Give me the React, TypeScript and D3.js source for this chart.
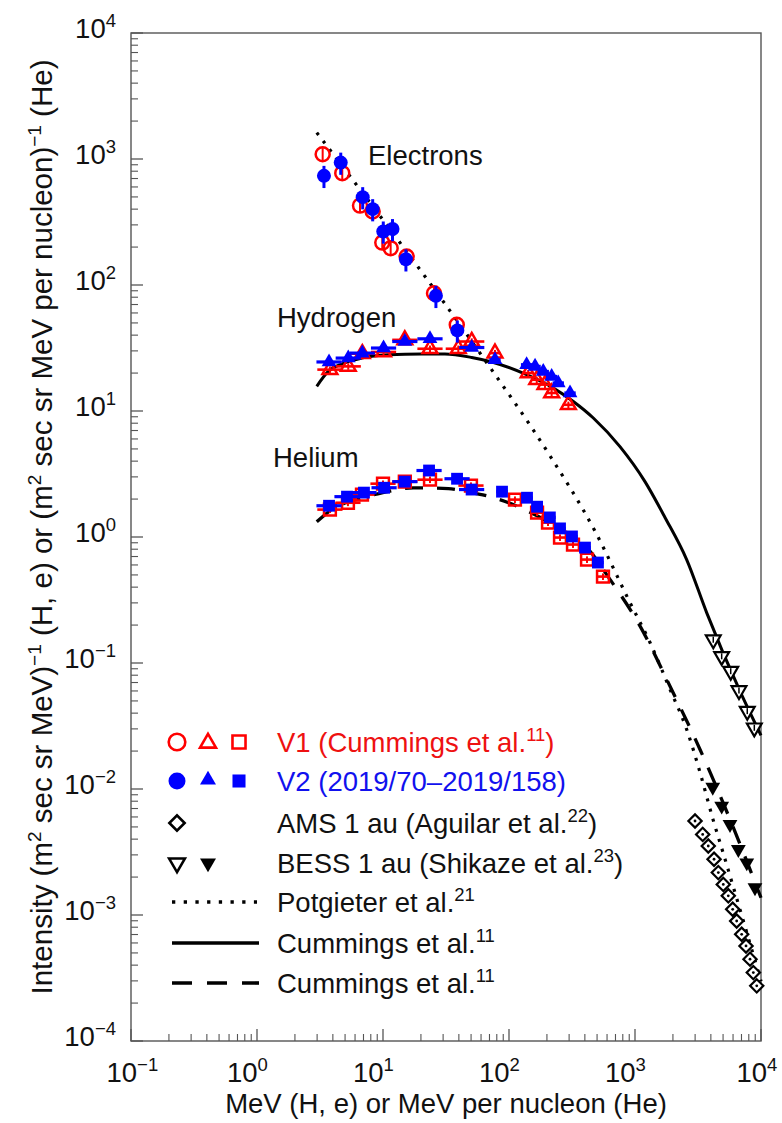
import React from "react";
import * as d3 from "d3";

// ---------- axes ----------
const xTickValues = [0.1, 1, 10, 100, 1000, 10000];
const xTickExps = ["−1", "0", "1", "2", "3", "4"];
const yTickValues = [1e-4, 1e-3, 1e-2, 1e-1, 1, 10, 100, 1000, 10000];
const yTickExps = ["−4", "−3", "−2", "−1", "0", "1", "2", "3", "4"];

// ---------- electrons ----------
const elecV1E = [3.32, 4.75, 6.57, 8.28, 9.87, 11.5, 15.4, 25.4, 38.5];
const elecV1I = [1091, 772, 427, 383, 217, 196, 168, 86, 48.3];
const elecV2E = [3.4, 4.62, 6.9, 8.28, 10.05, 11.9, 15.2, 26.3, 38.9];
const elecV2I = [735, 936, 498, 400, 266, 278, 160, 82, 43.6];

// ---------- hydrogen ----------
const hydV1E = [3.79, 5.3, 6.85, 10.1, 14.9, 23.6, 39.6, 50.6, 77.4, 142, 166, 193, 218, 296];
const hydV1I = [21.3, 22.6, 28.5, 29.4, 36.7, 31.2, 31.2, 35.6, 28.8, 20.0, 17.7, 16.2, 13.9, 11.2];
const hydV2E = [3.73, 5.3, 6.85, 10.1, 14.9, 23.6, 50.6, 77.4, 138, 161, 187, 218, 246, 305];
const hydV2I = [24.5, 26.3, 28.8, 31.6, 35.6, 37.4, 31.9, 25.5, 23.3, 22.6, 20.6, 18.8, 16.7, 13.9];

// ---------- helium ----------
const heV1E = [3.79, 5.27, 6.81, 10, 14.9, 23.6, 49.9, 111.5, 167, 204, 254, 322, 416, 557];
const heV1I = [1.65, 1.87, 2.17, 2.65, 2.75, 2.85, 2.56, 1.98, 1.56, 1.3, 0.99, 0.871, 0.662, 0.485];
const heV2E = [3.73, 5.18, 7.06, 10.2, 14.9, 23.2, 38.7, 50.5, 88.0, 139, 167, 211, 254, 316, 401, 508];
const heV2I = [1.77, 2.09, 2.25, 2.46, 2.75, 3.37, 2.9, 2.38, 2.29, 2.05, 1.74, 1.43, 1.17, 1.01, 0.824, 0.627];

// ---------- 1 au data ----------
const amsE = [2995, 3445, 3815, 4240, 4585, 5020, 5500, 5960, 6410, 7025, 7605, 8180, 8690, 9250];
const amsI = [0.00557, 0.00436, 0.00353, 0.00277, 0.00217, 0.00175, 0.00142, 0.00111, 0.000896, 0.000703, 0.000568, 0.000446, 0.000349, 0.000274];
const bessHE = [4180, 4875, 5750, 6685, 7780, 8850];
const bessHI = [0.153, 0.113, 0.0861, 0.0605, 0.0415, 0.0306];
const bessHeE = [4140, 4875, 5675, 6610, 7710, 8960];
const bessHeI = [0.01035, 0.00732, 0.00524, 0.00332, 0.0026, 0.00165];

// ---------- models ----------
const potE = [2.98, 61.4, 204, 482, 912, 1315, 1897, 2572, 3281, 4159, 4993, 10000];
const potI = [1620, 27.1, 4.67, 1.11, 0.302, 0.1455, 0.0617, 0.0297, 0.01355, 0.00574, 0.00314, 0.000298];
const solE = [2.98, 3.68, 4.7, 6.78, 11.0, 20.3, 31.0, 50.6, 73.0, 138, 225, 324, 467, 760, 1200, 1730, 2570, 3710, 6810, 10000];
const solI = [15.7, 20.6, 23.6, 26.3, 27.9, 28.3, 28.3, 26.6, 24.5, 19.4, 15.2, 11.9, 8.8, 5.21, 2.75, 1.43, 0.662, 0.25, 0.0597, 0.0266];
const dashE = [2.98, 3.92, 4.99, 6.98, 9.78, 17.4, 23.6, 33.0, 44.8, 82.2, 147, 270, 440, 596, 1097, 2004, 3281, 5675, 10000];
const dashI = [1.32, 1.65, 1.86, 2.06, 2.24, 2.45, 2.45, 2.42, 2.3, 2.0, 1.57, 1.11, 0.771, 0.503, 0.196, 0.0583, 0.0206, 0.00574, 0.00137];

const RED = "#ff0000";
const BLUE = "#0000ff";
const INK = "#111111";
const FONT = "'Liberation Sans', Arial, Helvetica, sans-serif";

const X0 = 131, X1 = 761, Y0 = 33, Y1 = 1041;

const pairs = (a: number[], b: number[]) => a.map((v, i) => [v, b[i]] as [number, number]);

export default function App() {
  const x = d3.scaleLog().domain([0.1, 1e4]).range([X0, X1]);
  const y = d3.scaleLog().domain([1e-4, 1e4]).range([Y1, Y0]);
  const line = d3
    .line<[number, number]>()
    .x((d) => x(d[0]))
    .y((d) => y(d[1]))
    .curve(d3.curveMonotoneX);

  const tri = d3.symbol().type(d3.symbolTriangle).size(95)() as string;
  const triL = d3.symbol().type(d3.symbolTriangle).size(110)() as string;
  const sq = d3.symbol().type(d3.symbolSquare).size(140)() as string;
  const sqL = d3.symbol().type(d3.symbolSquare).size(170)() as string;
  const dia = d3.symbol().type(d3.symbolSquare).size(88)() as string;

  // minor ticks
  const minorX: number[] = [];
  for (let p = -1; p < 4; p++) for (let k = 2; k <= 9; k++) minorX.push(k * Math.pow(10, p));
  const minorY: number[] = [];
  for (let p = -4; p < 4; p++) for (let k = 2; k <= 9; k++) minorY.push(k * Math.pow(10, p));

  const hBar = (E: number) => (E < 60 ? 0.1 : 0.045);

  const errH = (data: [number, number][], color: string, w: number, key: string) =>
    data.map(([e, v], i) => (
      <line
        key={key + i}
        x1={x(e / Math.pow(10, hBar(e)))}
        x2={x(e * Math.pow(10, hBar(e)))}
        y1={y(v)}
        y2={y(v)}
        stroke={color}
        strokeWidth={w}
      />
    ));
  const errV = (data: [number, number][], frac: number, color: string, w: number, key: string) =>
    data.map(([e, v], i) => (
      <line
        key={key + i}
        x1={x(e)}
        x2={x(e)}
        y1={y(v * (1 - frac))}
        y2={y(v * (1 + frac))}
        stroke={color}
        strokeWidth={w}
      />
    ));

  const eV1 = pairs(elecV1E, elecV1I);
  const eV2 = pairs(elecV2E, elecV2I);
  const hV1 = pairs(hydV1E, hydV1I);
  const hV2 = pairs(hydV2E, hydV2I);
  const heV1 = pairs(heV1E, heV1I);
  const heV2 = pairs(heV2E, heV2I);
  const ams = pairs(amsE, amsI);
  const bH = pairs(bessHE, bessHI);
  const bHe = pairs(bessHeE, bessHeI);

  const legendY = [742, 781, 823, 863, 902, 943, 983];
  const lx = [177, 208, 239];
  const tx = 277;
  const fs = 27.5;
  const sup = (s: string) => (
    <>
      <tspan dy={-11} fontSize={18.5}>{s}</tspan>
      <tspan dy={11}>)</tspan>
    </>
  );

  return (
    <svg
      width={782}
      height={1123}
      style={{ position: "absolute", left: 0, top: 0, background: "#fff" }}
      fontFamily={FONT}
    >
      <rect width={782} height={1123} fill="#fff" />

      {/* frame */}
      <rect x={X0} y={Y0} width={X1 - X0} height={Y1 - Y0} fill="none" stroke="#555" strokeWidth={1.4} />

      {/* ticks */}
      {xTickValues.map((v, i) => (
        <line key={"xt" + i} x1={x(v)} x2={x(v)} y1={Y1} y2={Y1 - 12} stroke="#555" strokeWidth={1.3} />
      ))}
      {minorX.map((v, i) => (
        <line key={"xm" + i} x1={x(v)} x2={x(v)} y1={Y1} y2={Y1 - 7} stroke="#555" strokeWidth={1.1} />
      ))}
      {yTickValues.map((v, i) => (
        <line key={"yt" + i} x1={X0} x2={X0 + 12} y1={y(v)} y2={y(v)} stroke="#555" strokeWidth={1.3} />
      ))}
      {minorY.map((v, i) => (
        <line key={"ym" + i} x1={X0} x2={X0 + 7} y1={y(v)} y2={y(v)} stroke="#555" strokeWidth={1.1} />
      ))}

      {/* tick labels */}
      {xTickValues.map((v, i) => {
        const off = i === 0 || i === xTickValues.length - 1 ? -24.5 : -30;
        return (
          <text key={"xl" + i} x={x(v) + off} y={1082} fontSize={fs} fill={INK}>
            10
            <tspan dy={-11} fontSize={18.5}>{xTickExps[i]}</tspan>
          </text>
        );
      })}
      {yTickValues.map((v, i) => (
        <text key={"yl" + i} x={116} y={y(v) + 5} fontSize={fs} fill={INK} textAnchor="end">
          10
          <tspan dy={-11} fontSize={18.5}>{yTickExps[i]}</tspan>
        </text>
      ))}

      {/* axis titles */}
      <text x={446} y={1113} fontSize={fs} fill={INK} textAnchor="middle">
        MeV (H, e) or MeV per nucleon (He)
      </text>
      <text transform="translate(52,527) rotate(-90)" fontSize={29.5} fill={INK} textAnchor="middle">
        Intensity (m<tspan dy={-11} fontSize={19}>2</tspan>
        <tspan dy={11}> sec sr MeV)</tspan>
        <tspan dy={-11} fontSize={19}>−1</tspan>
        <tspan dy={11}> (H, e) or (m</tspan>
        <tspan dy={-11} fontSize={19}>2</tspan>
        <tspan dy={11}> sec sr MeV per nucleon)</tspan>
        <tspan dy={-11} fontSize={19}>−1</tspan>
        <tspan dy={11}> (He)</tspan>
      </text>

      {/* model curves */}
      <path d={line(pairs(potE, potI)) || ""} fill="none" stroke="#000" strokeWidth={3.2} strokeDasharray="3 7.5" />
      <path d={line(pairs(solE, solI)) || ""} fill="none" stroke="#000" strokeWidth={3} />
      <path d={line(pairs(dashE, dashI)) || ""} fill="none" stroke="#000" strokeWidth={3.3} strokeDasharray="18 14" />

      {/* V1 (red, open) */}
      {errH(hV1, RED, 2.6, "hv1h")}
      {errV(hV1, 0.06, RED, 2, "hv1v")}
      {errH(heV1, RED, 2.6, "hev1h")}
      {errV(heV1, 0.06, RED, 2, "hev1v")}
      {errV(eV1, 0.12, RED, 2, "ev1v")}
      {eV1.map(([e, v], i) => (
        <circle key={"ec1" + i} cx={x(e)} cy={y(v)} r={7} fill="none" stroke={RED} strokeWidth={2.5} />
      ))}
      {hV1.map(([e, v], i) => (
        <path key={"ht1" + i} d={tri} transform={`translate(${x(e)},${y(v)})`} fill="none" stroke={RED} strokeWidth={2.5} />
      ))}
      {heV1.map(([e, v], i) => (
        <path key={"hs1" + i} d={sq} transform={`translate(${x(e)},${y(v)})`} fill="none" stroke={RED} strokeWidth={2.5} />
      ))}

      {/* V2 (blue, filled) */}
      {errH(hV2, BLUE, 3.2, "hv2h")}
      {errH(heV2, BLUE, 3.2, "hev2h")}
      {errV(eV2, 0.2, BLUE, 3, "ev2v")}
      {eV2.map(([e, v], i) => (
        <circle key={"ec2" + i} cx={x(e)} cy={y(v)} r={7} fill={BLUE} />
      ))}
      {hV2.map(([e, v], i) => (
        <path key={"ht2" + i} d={tri} transform={`translate(${x(e)},${y(v)})`} fill={BLUE} />
      ))}
      {heV2.map(([e, v], i) => (
        <path key={"hs2" + i} d={sq} transform={`translate(${x(e)},${y(v)})`} fill={BLUE} />
      ))}

      {/* AMS & BESS */}
      {ams.map(([e, v], i) => (
        <g key={"am" + i} transform={`translate(${x(e)},${y(v)})`}>
          <path d={dia} transform="rotate(45)" fill="#fff" stroke="#000" strokeWidth={2.2} />
          <circle r={1.4} fill="#000" />
        </g>
      ))}
      {bH.map(([e, v], i) => (
        <g key={"bh" + i} transform={`translate(${x(e)},${y(v)})`}>
          <path d={tri} transform="rotate(180)" fill="#fff" stroke="#000" strokeWidth={2.2} />
          <line x1={0} x2={0} y1={-3} y2={3} stroke="#000" strokeWidth={1.5} />
        </g>
      ))}
      {bHe.map(([e, v], i) => (
        <path key={"bhe" + i} d={tri} transform={`translate(${x(e)},${y(v)}) rotate(180)`} fill="#000" />
      ))}

      {/* species labels */}
      <text x={368} y={165} fontSize={fs} fill={INK}>Electrons</text>
      <text x={277} y={327} fontSize={fs} fill={INK}>Hydrogen</text>
      <text x={273} y={467} fontSize={fs} fill={INK}>Helium</text>

      {/* legend */}
      <g>
        <circle cx={lx[0]} cy={legendY[0]} r={8.3} fill="none" stroke={RED} strokeWidth={2.6} />
        <path d={triL} transform={`translate(${lx[1]},${legendY[0] + 1})`} fill="none" stroke={RED} strokeWidth={2.6} />
        <path d={sqL} transform={`translate(${lx[2]},${legendY[0]})`} fill="none" stroke={RED} strokeWidth={2.6} />
        <text x={tx} y={legendY[0] + 10} fontSize={fs} fill="#ee1111">
          V1 (Cummings et al.{sup("11")}
        </text>

        <circle cx={lx[0]} cy={legendY[1]} r={8.5} fill={BLUE} />
        <path d={triL} transform={`translate(${lx[1]},${legendY[1] - 1})`} fill={BLUE} />
        <path d={sqL} transform={`translate(${lx[2]},${legendY[1]})`} fill={BLUE} />
        <text x={tx} y={legendY[1] + 10} fontSize={fs} fill="#1111ee">
          V2 (2019/70–2019/158)
        </text>

        <path d={dia} transform={`translate(${lx[0]},${legendY[2]}) rotate(45) scale(1.15)`} fill="none" stroke="#000" strokeWidth={2.3} />
        <text x={tx} y={legendY[2] + 10} fontSize={fs} fill={INK}>
          AMS 1 au (Aguilar et al.{sup("22")}
        </text>

        <path d={triL} transform={`translate(${lx[0]},${legendY[3]}) rotate(180)`} fill="none" stroke="#000" strokeWidth={2.5} />
        <path d={triL} transform={`translate(${lx[1]},${legendY[3]}) rotate(180)`} fill="#000" />
        <text x={tx} y={legendY[3] + 10} fontSize={fs} fill={INK}>
          BESS 1 au (Shikaze et al.{sup("23")}
        </text>

        <line x1={172} x2={257} y1={legendY[4]} y2={legendY[4]} stroke="#000" strokeWidth={3.3} strokeDasharray="3.3 8.4" />
        <text x={tx} y={legendY[4] + 10} fontSize={fs} fill={INK}>
          Potgieter et al.<tspan dy={-11} fontSize={18.5}>21</tspan>
        </text>

        <line x1={172} x2={259} y1={legendY[5]} y2={legendY[5]} stroke="#000" strokeWidth={3.6} />
        <text x={tx} y={legendY[5] + 10} fontSize={fs} fill={INK}>
          Cummings et al.<tspan dy={-11} fontSize={18.5}>11</tspan>
        </text>

        <line x1={172} x2={259} y1={legendY[6]} y2={legendY[6]} stroke="#000" strokeWidth={3.6} strokeDasharray="20 15" />
        <text x={tx} y={legendY[6] + 10} fontSize={fs} fill={INK}>
          Cummings et al.<tspan dy={-11} fontSize={18.5}>11</tspan>
        </text>
      </g>
    </svg>
  );
}
